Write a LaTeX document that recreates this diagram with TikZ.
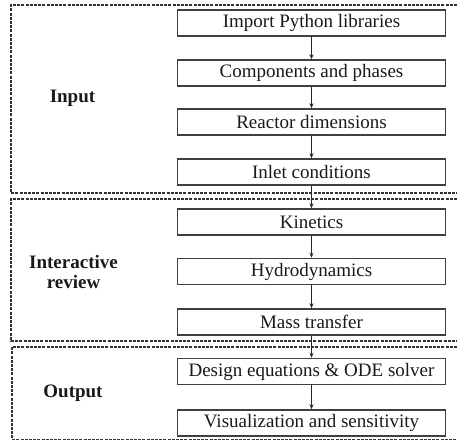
\documentclass[tikz,border=0pt]{standalone}
\usepackage{fontspec}
\setmainfont{Liberation Serif}
\usetikzlibrary{arrows.meta}
\tikzset{
  stepbox/.style={draw=black!75, line width=1.5pt, minimum width=268pt, minimum height=26pt, inner sep=0pt, font=\fontsize{19}{22}\selectfont, text=black!90},
  grouplabel/.style={font=\fontsize{19}{22}\selectfont\bfseries, align=center, text=black!90},
  frame/.style={draw=black!80, line width=1.1pt, dash pattern=on 3pt off 1.2pt},
  flow/.style={draw=black!85, line width=1.1pt, -{Stealth[length=5pt,width=4pt]}}
}
\begin{document}
\begin{tikzpicture}[x=1pt,y=-1pt]
\useasboundingbox (0,0) rectangle (457,440);
% group frames (right side runs off the picture)
\draw[frame] (457,5) -- (11,5) -- (11,193) -- (457,193);
\draw[frame] (457,199) -- (11,199) -- (11,341) -- (457,341);
\draw[frame] (457,347) -- (12,347) -- (12,439.5) -- (457,439.5);
% group labels
\node[grouplabel] (lin) at (72.5,98) {Input};
\node[grouplabel] (lrev) at (73.5,272) {Interactive\\[-2pt]review};
\node[grouplabel] (lout) at (73,393) {Output};
% steps
\node[stepbox] (n1) at (311.5,23) {Import Python libraries};
\node[stepbox] (n2) at (311.5,73) {Components and phases};
\node[stepbox] (n3) at (311.5,122) {Reactor dimensions};
\node[stepbox] (n4) at (311.5,172) {Inlet conditions};
\node[stepbox] (n5) at (311.5,222) {Kinetics};
\node[stepbox] (n6) at (311.5,271.5) {Hydrodynamics};
\node[stepbox] (n7) at (311.5,322) {Mass transfer};
\node[stepbox] (n8) at (311.5,371.5) {Design equations \& ODE solver};
\node[stepbox] (n9) at (311.5,423) {Visualization and sensitivity};
% connectors
\foreach \a/\b in {n1/n2,n2/n3,n3/n4,n4/n5,n5/n6,n6/n7,n7/n8,n8/n9}
  \draw[flow] (\a) -- (\b);
\end{tikzpicture}
\end{document}
